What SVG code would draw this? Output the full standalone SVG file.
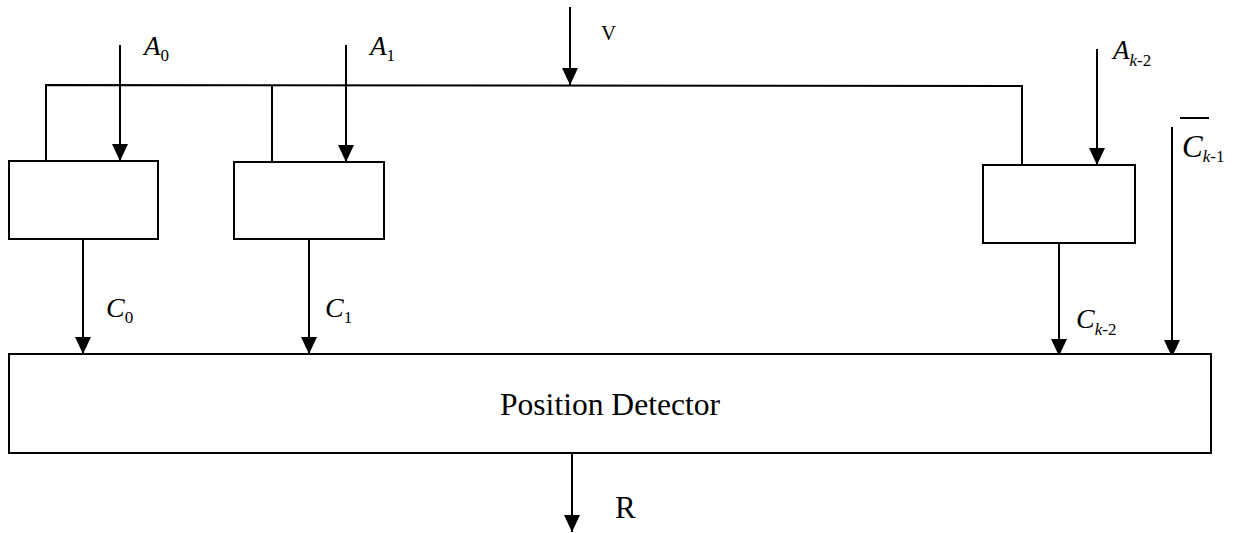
<svg xmlns="http://www.w3.org/2000/svg" width="1239" height="533" viewBox="0 0 1239 533">
<style>
.box{fill:#fff;stroke:#000;stroke-width:2}
.ln{fill:none;stroke:#000;stroke-width:2}
.ar{fill:none;stroke:#000;stroke-width:2;marker-end:url(#ah)}
.lab{font-family:"Liberation Serif","Times New Roman",serif;font-style:italic;font-size:27px;fill:#000}
.sub{font-family:"Liberation Serif","Times New Roman",serif;font-size:17px;fill:#000}
.up{font-family:"Liberation Serif","Times New Roman",serif;font-size:31px;fill:#000}
</style>
<defs>
<marker id="ah" markerUnits="userSpaceOnUse" markerWidth="20" markerHeight="20" viewBox="0 -10 20 20" refX="17" refY="0" orient="auto">
<path d="M0,-8 L17,0 L0,8 z" fill="#000"/>
</marker>
</defs>
<rect width="1239" height="533" fill="#fff"/>
<g id="connectors">
<polyline class="ln" points="46,161 46,85 1022,86 1022,165"/>
<line class="ln" x1="272" y1="85" x2="272" y2="162"/>
<line class="ar" x1="120" y1="45" x2="120" y2="161"/>
<line class="ar" x1="346" y1="45" x2="346" y2="162"/>
<line class="ar" x1="570" y1="7" x2="570" y2="85"/>
<line class="ar" x1="1097" y1="49" x2="1097" y2="165"/>
<line class="ar" x1="83" y1="239" x2="83" y2="354"/>
<line class="ar" x1="309" y1="239" x2="309" y2="354"/>
<line class="ar" x1="1059" y1="243" x2="1059" y2="356"/>
<line class="ar" x1="1172" y1="127" x2="1172" y2="357"/>
<line class="ar" x1="572" y1="453" x2="572" y2="532"/>
</g>
<g id="box0"><rect class="box" x="9" y="161" width="149" height="78"/></g>
<g id="box1"><rect class="box" x="234" y="162" width="150" height="77"/></g>
<g id="boxk2"><rect class="box" x="983" y="165" width="152" height="78"/></g>
<g id="detector">
<rect class="box" x="9" y="354" width="1202" height="99"/>
<text class="up" x="610" y="415" text-anchor="middle" textLength="220" lengthAdjust="spacingAndGlyphs">Position Detector</text>
</g>
<g id="labels">
<text class="lab" x="144" y="55">A<tspan class="sub" font-style="normal" dy="6">0</tspan></text>
<text class="lab" x="370" y="55">A<tspan class="sub" font-style="normal" dy="6">1</tspan></text>
<text class="up" x="601" y="40" style="font-size:21px">V</text>
<text class="lab" x="1113" y="59">A<tspan class="sub" font-style="italic" dy="7">k</tspan><tspan class="sub" font-style="normal">-2</tspan></text>
<line class="ln" x1="1180" y1="118" x2="1209" y2="118"/>
<text class="lab" x="1182" y="157" style="font-size:31px">C<tspan class="sub" font-style="italic" dy="5">k</tspan><tspan class="sub" font-style="normal">-1</tspan></text>
<text class="lab" x="106" y="317" style="font-size:28px">C<tspan class="sub" font-style="normal" dy="6">0</tspan></text>
<text class="lab" x="325" y="317" style="font-size:28px">C<tspan class="sub" font-style="normal" dy="6">1</tspan></text>
<text class="lab" x="1076" y="328" style="font-size:28px">C<tspan class="sub" font-style="italic" dy="7">k</tspan><tspan class="sub" font-style="normal">-2</tspan></text>
<text class="up" x="615" y="518">R</text>
</g>
</svg>
